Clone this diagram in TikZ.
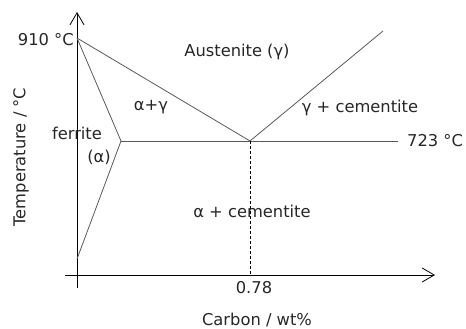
\documentclass[tikz,border=0pt]{standalone}
\usepackage{fontspec}
\setmainfont{DejaVu Sans}
\usetikzlibrary{arrows.meta}
\begin{document}
\begin{tikzpicture}[x=1pt,y=-1pt,
  axis/.style={black,line width=0.8pt},
  phase/.style={gray!70!black,line width=0.8pt},
  lbl/.style={inner sep=0pt,font=\fontsize{16.3}{19}\selectfont,text=black!85},
  barb/.style={-{Straight Barb[length=12pt,width=14pt,line width=0.8pt]}}]
\useasboundingbox (0,0) rectangle (466,329);
\coordinate (ybot) at (77,288);
\coordinate (ytop) at (77,12);
\coordinate (xst) at (65,275);
\coordinate (xend) at (435,275);
\coordinate (A) at (77,38);
\coordinate (F) at (121,141);
\coordinate (B) at (77,259);
\coordinate (E) at (250,141);
\coordinate (R) at (398,141);
\coordinate (U) at (383,31);
\coordinate (D) at (250,275);
% axes
\draw[axis,barb] (ybot) -- (ytop);
\draw[axis,barb] (xst) -- (xend);
% phase lines
\draw[phase] (A) -- (F) -- (B);
\draw[phase] (A) -- (E);
\draw[phase] (F) -- (R);
\draw[phase] (E) -- (U);
\draw[black,line width=0.7pt,dash pattern=on 3pt off 2pt] (E) -- (D);
% labels
\node[lbl,anchor=east] (t910) at (74,40) {910 °C};
\node[lbl,anchor=west] (t723) at (407,141) {723 °C};
\node[lbl] (aus) at (237,52) {Austenite (γ)};
\node[lbl] (ag) at (151,107) {α+γ};
\node[lbl] (gc) at (360,108) {γ + cementite};
\node[lbl] (fer) at (77,133) {ferrite};
\node[lbl] (alp) at (99,157) {(α)};
\node[lbl] (ac) at (252,211) {α + cementite};
\node[lbl] (x078) at (254,288) {0.78};
\node[lbl] (xl) at (257,320) {Carbon / wt\%};
\node[lbl,rotate=90] (yl) at (21,157) {Temperature / °C};
\end{tikzpicture}
\end{document}
